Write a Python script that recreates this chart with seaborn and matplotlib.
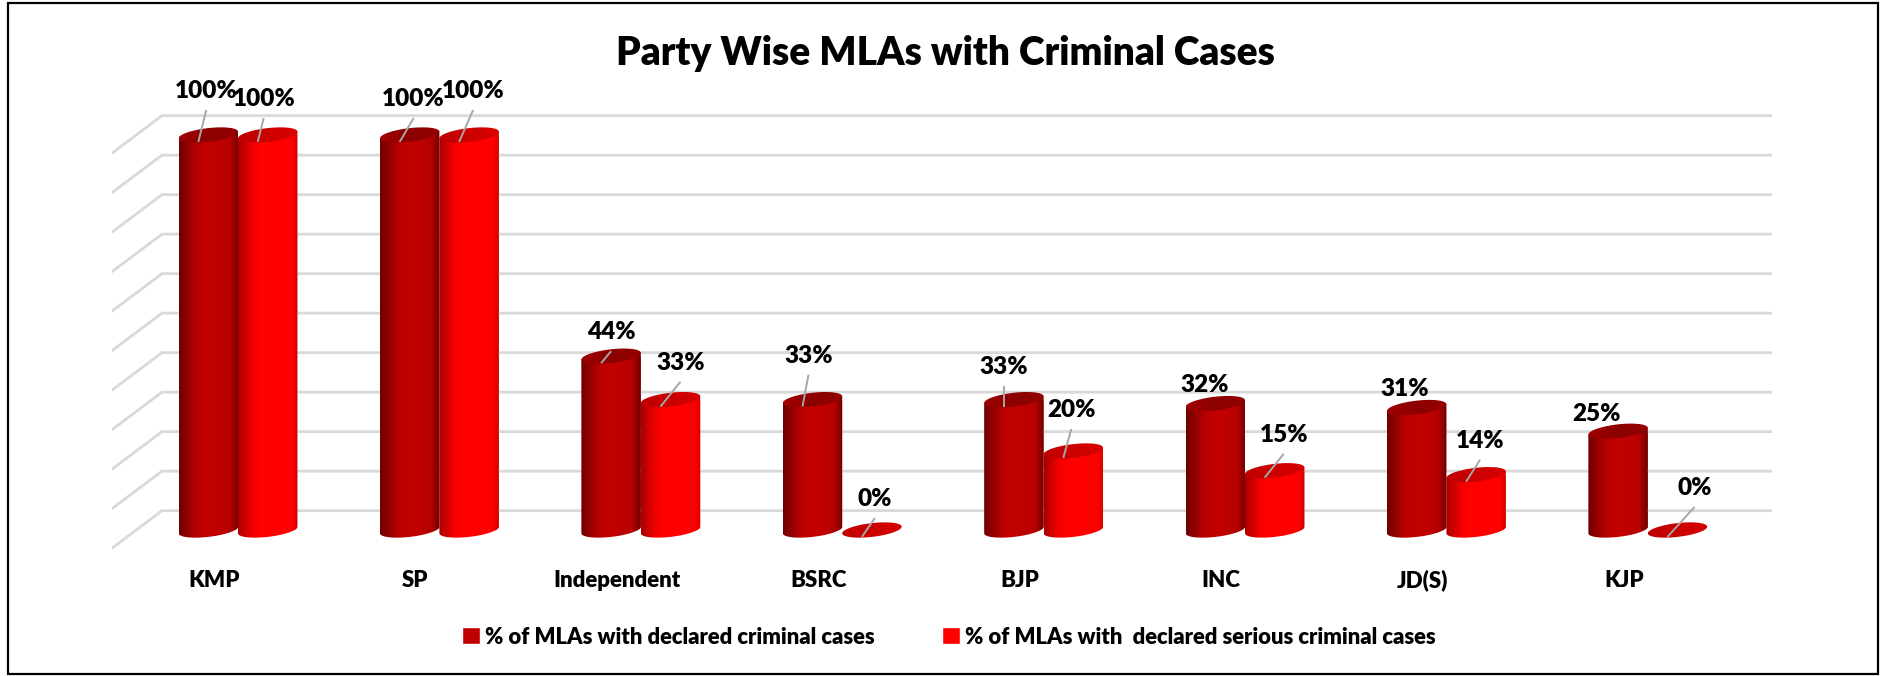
#!/usr/bin/env python3
"""Party wise MLAs with criminal cases: pseudo 3D cylinder bars on a seaborn barplot."""

import numpy as np
import pandas as pd
import matplotlib
matplotlib.use("Agg")
import matplotlib.pyplot as plt
from matplotlib.colors import LinearSegmentedColormap
from matplotlib.patches import Patch, PathPatch, Rectangle
from matplotlib.path import Path
import seaborn as sns

parties = ["KMP", "SP", "Independent", "BSRC", "BJP", "INC", "JD(S)", "KJP"]
declared = [100, 100, 44, 33, 33, 32, 31, 25]
serious = [100, 100, 33, 0, 20, 15, 14, 0]
series_names = [
    "% of MLAs with declared criminal cases",
    "% of MLAs with  declared serious criminal cases",
]
grid_ticks = [0, 10, 20, 30, 40, 50, 60, 70, 80, 90, 100]

# label offsets from the bar top, in pixels: (label dx, label dy, has leader line)
declared_labels = [(8, 44, 1), (14, 36, 1), (10, 24, 1), (6, 44, 1), (0, 33, 1), (-1, 19, 0), (-2, 19, 0), (-12, 17, 0)]
serious_labels = [(6, 36, 1), (14, 44, 1), (20, 37, 1), (13, 31, 1), (8, 41, 1), (19, 36, 1), (14, 34, 1), (27, 42, 1)]

W, H = 1881, 676
DPI = 100
PX_X = 201.4   # pixels per category
PX_Y = 3.95    # pixels per percentage point
TILT, MINOR = 3.3, 6.9  # cap ellipse shape in pixels

sns.set_theme(style="white")
plt.rcParams["font.family"] = ["Lato", "DejaVu Sans"]
plt.rcParams["font.weight"] = "heavy"

df = pd.DataFrame({
    "party": parties * 2,
    "share": declared + serious,
    "series": [series_names[0]] * 8 + [series_names[1]] * 8,
})

fig = plt.figure(figsize=(W / DPI, H / DPI), dpi=DPI)
left, right, top, bottom = 112, 1772, 100, 560
ax = fig.add_axes([left / W, 1 - bottom / H, (right - left) / W, (bottom - top) / H])

dark_red, bright_red = "#c00000", "#ff0000"
sns.barplot(
    data=df, x="party", y="share", hue="series", order=parties, hue_order=series_names,
    palette=[dark_red, bright_red], width=0.59, gap=0, saturation=1, legend=False, ax=ax,
)
ax.set_xlim((left - 238) / PX_X, (right - 238) / PX_X)
ax.set_ylim((530 - bottom) / PX_Y, (530 - top) / PX_Y)
xlim, ylim = ax.get_xlim(), ax.get_ylim()

# 3D style gridlines: side wall plus back wall
wall_x = (162 - 238) / PX_X
for t in grid_ticks:
    ax.plot([xlim[0], wall_x, xlim[1]], [t - 4.6, t + 4.9, t + 4.9],
            color="#d9d9d9", lw=2.0, zorder=1, solid_joinstyle="miter")

body_maps = [
    LinearSegmentedColormap.from_list("d", [(0, "#700000"), (0.3, "#b80000"), (0.5, "#c40000"),
                                            (0.85, "#b80000"), (1, "#700000")]),
    LinearSegmentedColormap.from_list("b", [(0, "#a80000"), (0.25, "#f40000"), (0.4, "#ff0000"),
                                            (0.9, "#ff0000"), (1, "#d00000")]),
]
cap_maps = [
    LinearSegmentedColormap.from_list("dc", ["#a00000", "#8c0000", "#940000"]),
    LinearSegmentedColormap.from_list("bc", ["#c00000", "#cc0000", "#d80000"]),
]
ramp = np.linspace(0, 1, 256).reshape(1, -1)


def ellipse_xy(cx, value, half, t):
    return cx + half * np.cos(t), value + (TILT * np.cos(t) + MINOR * np.sin(t)) / PX_Y


def paint(path, x0, x1, y0, y1, cmap, z):
    clip = PathPatch(path, transform=ax.transData, facecolor="none", edgecolor="none")
    ax.add_patch(clip)
    im = ax.imshow(ramp, cmap=cmap, extent=(x0, x1, y0, y1), aspect="auto", zorder=z, interpolation="bilinear")
    im.set_clip_path(clip)


n = len(parties)
values = [declared, serious]
labels = [declared_labels, serious_labels]
for s in range(2):
    for i in range(n):
        bar = ax.patches[s * n + i]
        v = values[s][i]
        x0, w = bar.get_x(), bar.get_width()
        cx, half = x0 + w / 2, w / 2
        z = 3 + s

        # cylinder body, with the rectangle clipped to the same outline
        if v > 0:
            t = np.linspace(np.pi, 2 * np.pi, 60)
            bx, by = ellipse_xy(cx, 0, half, t)
            tx, ty = ellipse_xy(cx, v, half, np.array([0, np.pi]))
            pts = np.column_stack([np.r_[bx, tx], np.r_[by, ty]])
            body = Path(np.vstack([pts, pts[0]]), closed=True)
            bar.set_clip_path(body, ax.transData)
            paint(body, x0, x0 + w, -5, v + 5, body_maps[s], z)
        else:
            bar.set_visible(False)

        # top cap
        t = np.linspace(0, 2 * np.pi, 120)
        ex, ey = ellipse_xy(cx, v, half, t)
        cap = Path(np.column_stack([ex, ey]), closed=False)
        cmap = cap_maps[s] if v > 0 else cap_maps[1]
        paint(cap, x0, x0 + w, v - 5, v + 5, cmap, z + 0.5)

        # value label and leader line
        dx, dy, leader = labels[s][i]
        anchor_x = cx - 10 / PX_X
        anchor_y = v - MINOR / PX_Y
        tx = anchor_x + dx / PX_X
        ty = v + dy / PX_Y
        ax.text(tx, ty, f"{v}%", ha="center", va="center", fontsize=17.5, fontweight="heavy",
                color="black", zorder=8, clip_on=False)
        if leader:
            ax.plot([anchor_x, tx], [anchor_y, ty - 19 / PX_Y], color="#a6a6a6", lw=1.4,
                    zorder=7, solid_capstyle="butt")

ax.set_xlim(xlim)
ax.set_ylim(ylim)

# depth offset moves the category labels left of the bars
ax.set_xticks(np.arange(n) - 24 / PX_X, parties)
ax.tick_params(axis="x", length=0, pad=7, labelsize=16, labelcolor="black")
ax.set_yticks([])
ax.set_xlabel("")
ax.set_ylabel("")
sns.despine(ax=ax, left=True, bottom=True)

fig.text(945 / W, 1 - 53 / H, "Party Wise MLAs with Criminal Cases", ha="center", va="center",
         fontsize=28, fontweight="heavy", color="black")

handles = [Patch(facecolor=dark_red), Patch(facecolor=bright_red)]
fig.legend(handles, series_names, loc="center", bbox_to_anchor=(949 / W, 1 - 637 / H), ncol=2,
           frameon=False, fontsize=15.8, handlelength=0.8, handleheight=0.8, handletextpad=0.25,
           columnspacing=3.05, labelcolor="black")

fig.add_artist(Rectangle((8 / W, 1 - 674 / H), 1870 / W, 671 / H, transform=fig.transFigure,
                         fill=False, edgecolor="black", lw=1.6))

fig.savefig("out.png", dpi=DPI, facecolor="white")
